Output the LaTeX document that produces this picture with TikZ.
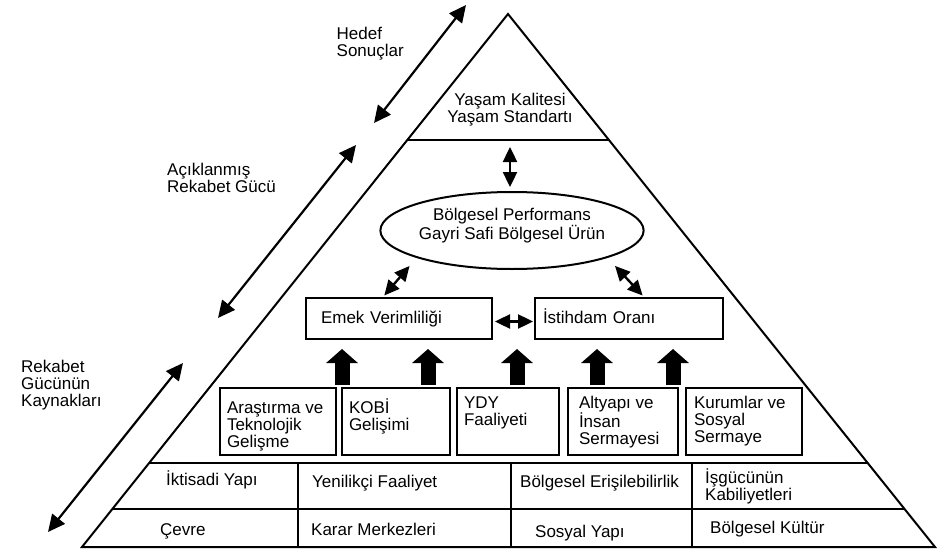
\documentclass[tikz,border=0pt]{standalone}
\usepackage{fontspec}
\setmainfont{Liberation Sans}
\usetikzlibrary{arrows.meta,shapes.geometric,calc}
\newcommand{\srctxt}[3]{\parbox[c][59pt][t]{#1}{\raggedright\rule{0pt}{#2}#3}}

\begin{document}
\begin{tikzpicture}[x=1pt,y=-1pt,
    font=\fontsize{17}{17}\selectfont,
    every node/.style={inner sep=0pt},
    thk/.style={line width=2pt},
    dbl/.style={{Triangle[length=15pt,width=14pt]}-{Triangle[length=15pt,width=14pt]},line width=2.4pt},
    side/.style={{Triangle[length=17pt,width=16pt]}-{Triangle[length=17pt,width=16pt]},line width=2.2pt},
    blk/.style={-{Triangle[length=14pt,width=31pt]},line width=15pt,shorten <=2pt,shorten >=9pt},
    outbox/.style={draw,thk,anchor=north west,minimum height=41pt,align=left,text height=12.5pt,text depth=3.5pt},
    srcbox/.style={draw,thk,anchor=north west,inner xsep=7pt,inner ysep=4pt},
    lbl/.style={anchor=north west,align=left}]
  \useasboundingbox (0,0) rectangle (940,551);
  \coordinate (top) at (508,14);
  \coordinate (bl) at (82,547);
  \coordinate (br) at (935,547);
  \draw[thk] (top) -- (bl) -- (br) -- cycle;
  \draw[thk] ($(top)!0.2364!(bl)$) -- ($(top)!0.2364!(br)$);
  \draw[thk] ($(top)!0.8424!(bl)$) -- ($(top)!0.8424!(br)$);
  \draw[thk] ($(top)!0.9287!(bl)$) -- ($(top)!0.9287!(br)$);
  \foreach \x in {298,511,692}
    \draw[thk] (\x,463) -- (\x,547);

  \node[align=center] (yasam) at (510,110) {Yaşam Kalitesi\\Yaşam Standartı};
  \node[ellipse,draw,thk,minimum width=259pt,minimum height=77pt,align=center,text depth=14pt] (perf) at (512,230.5)
    {Bölgesel Performans\\Gayri Safi Bölgesel Ürün};
  \node[outbox,inner xsep=15pt,text width=156pt] (emek) at (305,297) {Emek Verimliliği};
  \node[outbox,inner xsep=8pt,text width=172pt] (ist) at (534,297) {İstihdam Oranı};

  \node[srcbox] (src1) at (219,387) {\srctxt{102pt}{21pt}{Araştırma ve\\Teknolojik\\Gelişme}};
  \node[srcbox] (src2) at (341,387) {\srctxt{94pt}{21pt}{KOBİ\\Gelişimi}};
  \node[srcbox] (src3) at (456,387) {\srctxt{88pt}{16pt}{YDY\\Faaliyeti}};
  \node[srcbox,inner xsep=11pt] (src4) at (567,387) {\srctxt{88pt}{16pt}{Altyapı ve\\İnsan\\Sermayesi}};
  \node[srcbox,inner xsep=8pt] (src5) at (685,387) {\srctxt{100pt}{16pt}{Kurumlar ve\\Sosyal\\Sermaye}};

  \node[anchor=base west] (t11) at (166,485) {İktisadi Yapı};
  \node[anchor=base west] (t12) at (312,487) {Yenilikçi Faaliyet};
  \node[anchor=base west] (t13) at (520,487) {Bölgesel Erişilebilirlik};
  \node[anchor=west,align=left] (t14) at (705,486) {İşgücünün\\Kabiliyetleri};
  \node[anchor=base west] (t21) at (160,535) {Çevre};
  \node[anchor=base west] (t22) at (311,535) {Karar Merkezleri};
  \node[anchor=base west] (t23) at (535,537) {Sosyal Yapı};
  \node[anchor=base west] (t24) at (710,533) {Bölgesel Kültür};

  \node[lbl] (hedef) at (336.5,26.5) {Hedef\\Sonuçlar};
  \node[lbl] (acik) at (167,162.5) {Açıklanmış\\Rekabet Gücü};
  \node[lbl] (kaynak) at (21,359.5) {Rekabet\\Gücünün\\Kaynakları};

  \coordinate (h1) at (466,5);   \coordinate (h2) at (374,123);
  \coordinate (a1) at (356,145); \coordinate (a2) at (218,318);
  \coordinate (k1) at (183,363); \coordinate (k2) at (48,532);
  \draw[side] (h1) -- (h2);
  \draw[side] (a1) -- (a2);
  \draw[side] (k1) -- (k2);

  \coordinate (band) at (510,140);
  \draw[dbl,shorten <=7pt,shorten >=4pt] (band) -- (band |- perf.north);
  \draw[dbl,shorten <=10.6pt,shorten >=2pt] (perf.196) -- ([xshift=-16pt]emek.north);
  \draw[dbl,shorten <=10.9pt,shorten >=2pt] (perf.344) -- ([xshift=15pt]ist.north);
  \draw[dbl,shorten <=2pt,shorten >=1pt] ([yshift=-3pt]emek.east) -- ([yshift=-3pt]ist.west);

  \path ($(src2.north west)+(1,0)$) coordinate (f1)
        ($(src2.north east)+(-23,0)$) coordinate (f2)
        ($(src3.north)+(9,0)$) coordinate (f3)
        ($(src4.north)+(-26,0)$) coordinate (f4)
        ($(src5.north west)+(-12,0)$) coordinate (f5);
  \foreach \i in {1,...,5}
    \draw[blk] (f\i) -- (f\i |- emek.south);
\end{tikzpicture}
\end{document}
